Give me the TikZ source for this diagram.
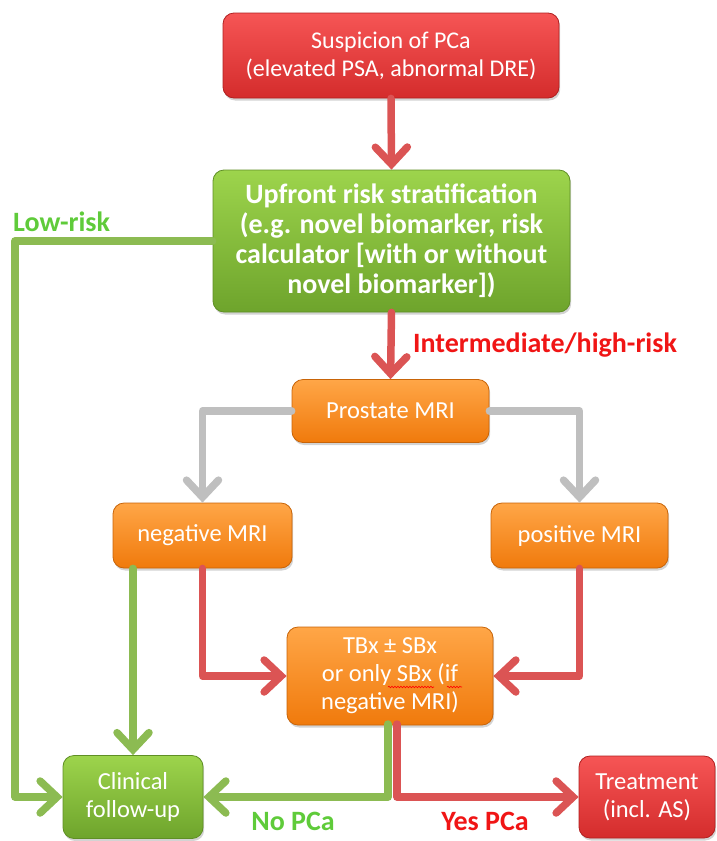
\documentclass[tikz,border=0pt]{standalone}
\usepackage{fontspec}
\setmainfont{Carlito}
\usetikzlibrary{arrows.meta,shadows,calc,decorations.pathmorphing}
\definecolor{redT}{HTML}{F65555}
\definecolor{redB}{HTML}{D42C2C}
\definecolor{redD}{HTML}{B02020}
\definecolor{grnT}{HTML}{9DD44C}
\definecolor{grnB}{HTML}{6EA42C}
\definecolor{grnD}{HTML}{5F8F25}
\definecolor{orT}{HTML}{FFA647}
\definecolor{orB}{HTML}{F07A0C}
\definecolor{orD}{HTML}{C86408}
\definecolor{lnRed}{HTML}{DB5454}
\definecolor{lnGrn}{HTML}{8CBB52}
\definecolor{lnGray}{HTML}{BFBFBF}
\definecolor{lblGrn}{HTML}{5FCB3A}
\definecolor{lblRed}{HTML}{F01515}
\tikzset{
  box/.style={rectangle, rounded corners=11pt, align=center, text=white,
    line width=0.8pt, inner sep=0pt,
    drop shadow={shadow xshift=1.2pt, shadow yshift=-2.5pt, opacity=0.35}},
  redbox/.style={box, top color=redT, bottom color=redB, draw=redD},
  grnbox/.style={box, top color=grnT, bottom color=grnB, draw=grnD},
  orbox/.style={box, top color=orT, bottom color=orB, draw=orD},
  conn/.style={line width=7.5pt, line cap=round, line join=round,
    -{Straight Barb[length=17pt,width=32pt,line cap=round,line join=miter]}},
  txt/.style={font=\fontsize{24.5}{28}\selectfont},
  lbl/.style={font=\fontsize{28}{32}\selectfont\bfseries, inner sep=0pt},
  wave/.style={red, line width=0.6pt, decorate,
    decoration={snake, amplitude=0.8pt, segment length=3pt}},
}
\begin{document}
\begin{tikzpicture}[x=1pt,y=-1pt]
\useasboundingbox (0,0) rectangle (716,841);

% nodes
\node[redbox, font=\fontsize{24}{28}\selectfont, minimum width=336pt, minimum height=85pt] (susp) at (391,55.5)
  {Suspicion of PCa\\(elevated PSA, abnormal DRE)};
\node[grnbox, minimum width=357pt, minimum height=142pt,
  font=\fontsize{28}{30}\selectfont\bfseries] (up) at (391.5,241)
  {Upfront risk stratification\\(e.g. novel biomarker, risk\\calculator [with or without\\novel biomarker])};
\node[orbox, txt, minimum width=197pt, minimum height=63pt] (pro) at (390.5,411) {Prostate MRI};
\node[orbox, txt, minimum width=179pt, minimum height=65pt] (neg) at (202.5,535.5) {negative MRI};
\node[orbox, txt, minimum width=177pt, minimum height=65pt] (pos) at (579.5,535.5) {positive MRI};
\node[orbox, txt, minimum width=206pt, minimum height=98pt] (tbx) at (390,676)
  {TBx ± SBx\\or only SBx (if\\negative MRI)};
\node[grnbox, txt, minimum width=140pt, minimum height=83pt] (clin) at (133,797) {Clinical\\follow-up};
\node[redbox, txt, minimum width=136pt, minimum height=82pt] (treat) at (647,797) {Treatment\\(incl. AS)};

% spelling underlines
\draw[wave] ($(tbx.center)+(-2,11)$) -- ++(46,0);
\draw[wave] ($(tbx.center)+(57,11)$) -- ++(15,0);

% helper coordinates
\coordinate (lr) at (15,241);
\coordinate (tg) at (388,724);
\coordinate (tr) at (397,724);

% connectors
\draw[conn, lnRed] (susp.south) -- (up.north);
\draw[conn, lnRed] (up.south) -- (pro.north);
\draw[conn, lnGray] (pro.west) -| (neg.north);
\draw[conn, lnGray] (pro.east) -| (pos.north);
\draw[conn, lnRed] (neg.south) |- (tbx.west);
\draw[conn, lnRed] (pos.south) |- (tbx.east);
\draw[conn, lnGrn] (clin.north |- neg.south) -- (clin.north);
\draw[conn, lnGrn] (up.west) -- (lr) |- (clin.west);
\draw[conn, lnGrn] (tg) |- (clin.east);
\draw[conn, lnRed] (tr) |- (treat.west);

% labels
\node[lbl, text=lblGrn, anchor=west] (lowlbl) at (13,222) {Low-risk};
\node[lbl, text=lblRed, anchor=west] (intlbl) at (413,345) {Intermediate/high-risk};
\node[lbl, text=lblGrn] (nolbl) at (293,821) {No PCa};
\node[lbl, text=lblRed] (yeslbl) at (485,821) {Yes PCa};
\end{tikzpicture}
\end{document}
